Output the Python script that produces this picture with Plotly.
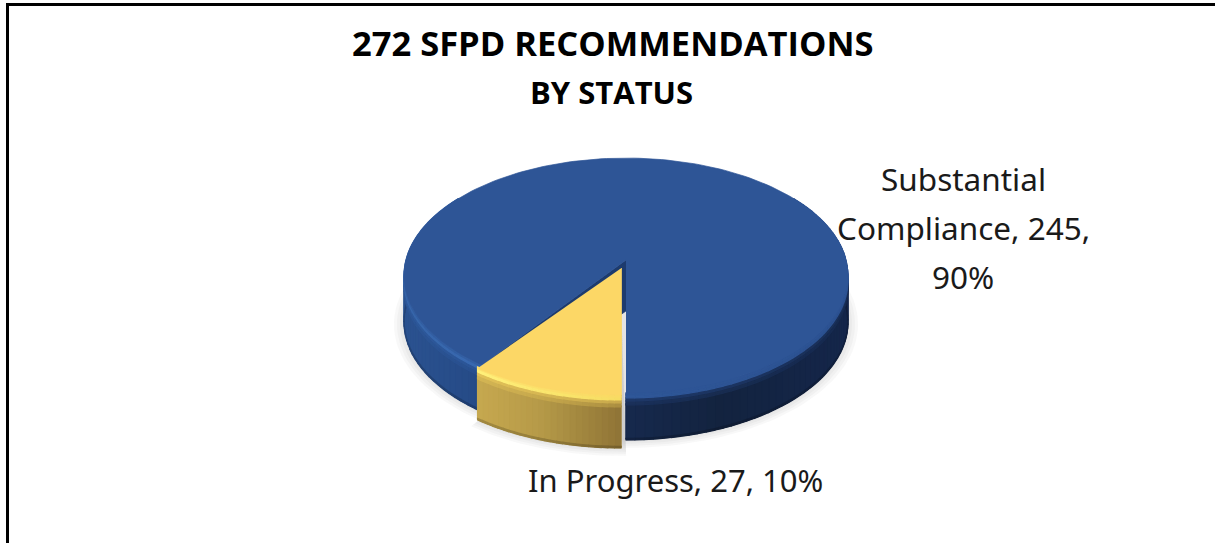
import numpy as np
import plotly.graph_objects as go

# ---- data ----
title_lines = ["272 SFPD RECOMMENDATIONS", "BY STATUS"]
categories = ["Substantial Compliance", "In Progress"]
values = [245, 27]
percents = [90, 10]

# ---- geometry / style ----
W, H = 1215, 543
R, K, HY, DEPTH = 220.0, 0.132, 115.4, 47.0
BLUE_C = (626.0, 260.0)
GOLD_C = (621.5, 268.0)
BLUE_TOP, GOLD_TOP = "#2e5596", "#fcd766"


def hex2rgb(c):
    return np.array([int(c[i:i + 2], 16) for i in (1, 3, 5)], float)


def rgb(a):
    return "rgb(%d,%d,%d)" % tuple(np.clip(a, 0, 255).round())


def ramp(stops, t):
    xs = [s[0] for s in stops]
    cols = np.array([hex2rgb(s[1]) for s in stops])
    return np.array([np.interp(t, xs, cols[:, i]) for i in range(3)])


def proj(phi_deg, c, depth=0.0, grow=0.0):
    p = np.radians(phi_deg)
    u, v = -np.sin(p), -np.cos(p)
    d = 1 + K * v
    return c[0] + (R + grow) * u / d, c[1] - (HY + grow * 0.6) * v / d + depth


def poly(xs, ys, color, opacity=1.0, lw=0.7):
    fig.add_trace(go.Scatter(
        x=np.asarray(xs), y=np.asarray(ys), mode="lines", fill="toself",
        fillcolor=color, opacity=opacity, line=dict(color=color, width=lw),
        hoverinfo="skip", showlegend=False))


def band(a, b, c, d0, d1, color, lw=1.3, pts=4):
    ph = np.linspace(a, b, pts)
    x0, y0 = proj(ph, c, d0)
    x1, y1 = proj(ph[::-1], c, d1)
    poly(np.r_[x0, x1], np.r_[y0, y1], color, lw=lw)


def wall(a, b, c, wall_stops, rim_mid, rim_hi, top, n, start=0.0):
    eds = np.linspace(a, b, n + 1)
    t = hex2rgb(top)
    # continuous underlay, so the joints between strips never show what is behind
    xm, _ = proj((a + b) / 2, c)
    band(a, b, c, start, DEPTH, rgb(ramp(wall_stops, xm)), lw=0.7, pts=60)
    layers = [
        (start + 11, DEPTH - 1.5, lambda w, m, h: w),
        (DEPTH - 1.5, DEPTH, lambda w, m, h: w * 0.82),
        (start + 8, start + 12, lambda w, m, h: 0.5 * m + 0.5 * w),
        (start + 5, start + 8, lambda w, m, h: m),
        (start + 2, start + 5, lambda w, m, h: h),
        (start, start + 2, lambda w, m, h: 0.5 * t + 0.5 * h),
    ]
    for d0, d1, shade in layers:
        for s, e in zip(eds[:-1], eds[1:]):
            xm, _ = proj((s + e) / 2, c)
            col = shade(ramp(wall_stops, xm), ramp(rim_mid, xm), ramp(rim_hi, xm))
            band(s, e, c, d0, d1, rgb(col))


fig = go.Figure()

gold_span = 360.0 * values[1] / sum(values)

# soft shadow beneath the pie
ph_all = np.linspace(0, 360, 181)
for g in (10, 7, 4, 1):
    x, y = proj(ph_all, BLUE_C, DEPTH + 1, g)
    poly(x, y, "#8a8a8a", 0.06, 0)
    x, y = proj(np.linspace(-1, gold_span, 30), GOLD_C, DEPTH + 1, g)
    poly(np.r_[x, GOLD_C[0]], np.r_[y, GOLD_C[1] + DEPTH], "#8a8a8a", 0.06, 0)

# blue cut face (seen in the notch left by the pulled-out slice)
rx, ry = proj(gold_span, BLUE_C)
poly([BLUE_C[0], rx, rx, BLUE_C[0]],
     [BLUE_C[1], ry, ry + DEPTH, BLUE_C[1] + DEPTH + 4], "#1d3b6e")

# blue outer wall
blue_wall = [(404, "#2b5290"), (480, "#254a86"), (626, "#16294d"), (720, "#13233f"), (848, "#14264a")]
blue_hi = [(404, "#3766aa"), (490, "#3a6ab2"), (626, "#2f5798"), (848, "#2c5190")]
blue_mid = [(404, "#2f5a9c"), (490, "#2b5495"), (626, "#1e3868"), (848, "#1a3058")]
wall(gold_span, 125, BLUE_C, blue_wall, blue_mid, blue_hi, BLUE_TOP, 40)
wall(235, 360, BLUE_C, blue_wall, blue_mid, blue_hi, BLUE_TOP, 60)

# blue top face
x, y = proj(np.linspace(gold_span, 360, 200), BLUE_C)
poly(np.r_[BLUE_C[0], x], np.r_[BLUE_C[1], y], BLUE_TOP)

# gold wall and top face
gold_wall = [(478, "#c6a84f"), (540, "#b69a48"), (621, "#8f7436")]
gold_hi = [(478, "#fff07a"), (621, "#f6dc62")]
gold_mid = [(478, "#e2c258"), (621, "#c8a94c")]
wall(0, gold_span, GOLD_C, gold_wall, gold_mid, gold_hi, GOLD_TOP, 24, start=-6.0)
x, y = proj(np.linspace(0, gold_span, 40), GOLD_C)
y = y - 6.0 * (y - GOLD_C[1]) / 135.0
poly(np.r_[GOLD_C[0], x], np.r_[GOLD_C[1], y], GOLD_TOP)

label_first = ["Substantial", "Compliance, %d," % values[0], "%d%%" % percents[0]]
label_second = "%s, %d, %d%%" % (categories[1], values[1], percents[1])

LABEL_FONT = dict(family="Noto Sans", size=31.5, color="#1a1a1a")
annos = [
    dict(x=612, y=42, text="<b>%s</b>" % title_lines[0],
         font=dict(family="Open Sans", size=34.5, color="black")),
    dict(x=611, y=92, text="<b>%s</b>" % title_lines[1],
         font=dict(family="Open Sans", size=31, color="black")),
    dict(x=675, y=480, text=label_second, font=dict(family="Noto Sans", size=31, color="#1a1a1a")),
]
for text, ypos in zip(label_first, (178, 227, 276)):
    annos.append(dict(x=963, y=ypos, text=text, font=LABEL_FONT))
for a in annos:
    a.update(showarrow=False, xref="x", yref="y")

fig.update_layout(
    width=W, height=H, margin=dict(l=0, r=0, t=0, b=0),
    paper_bgcolor="white", plot_bgcolor="white", showlegend=False,
    xaxis=dict(range=[0, W], visible=False, fixedrange=True),
    yaxis=dict(range=[H, 0], visible=False, fixedrange=True),
    shapes=[
        dict(type="line", xref="x", yref="y", x0=6, x1=W, y0=4.5, y1=4.5, line=dict(color="black", width=3)),
        dict(type="line", xref="x", yref="y", x0=7.5, x1=7.5, y0=3, y1=H, line=dict(color="black", width=3)),
    ],
    annotations=annos,
)
fig.write_html("out.html", config=dict(displayModeBar=False),
               post_script="document.body.style.margin='0';document.documentElement.style.overflow='hidden';")
